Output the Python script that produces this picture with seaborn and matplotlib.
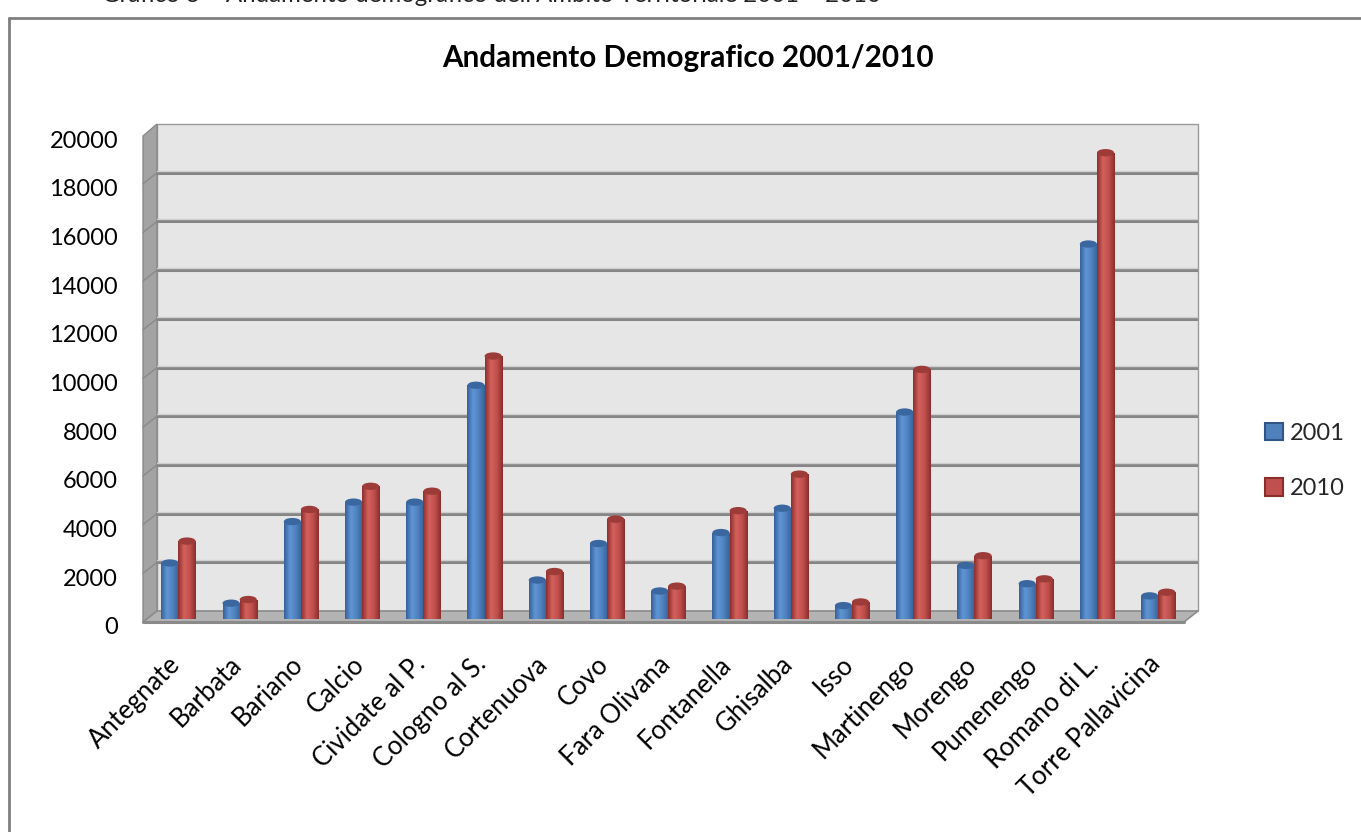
import numpy as np
import pandas as pd
import matplotlib
matplotlib.use("Agg")
import matplotlib.pyplot as plt
import matplotlib.transforms as mtransforms
from matplotlib.patches import Polygon, Ellipse, Patch
from matplotlib.colors import LinearSegmentedColormap
from matplotlib.lines import Line2D
import seaborn as sns

# Resident population per municipality
comuni = ["Antegnate", "Barbata", "Bariano", "Calcio", "Cividate al P.",
          "Cologno al S.", "Cortenuova", "Covo", "Fara Olivana", "Fontanella",
          "Ghisalba", "Isso", "Martinengo", "Morengo", "Pumenengo",
          "Romano di L.", "Torre Pallavicina"]
pop_2001 = [2300, 650, 4000, 4800, 4800, 9600, 1600, 3100, 1150, 3550,
            4550, 550, 8500, 2200, 1450, 15400, 950]
pop_2010 = [3200, 800, 4500, 5450, 5250, 10800, 1950, 4100, 1350, 4450,
            5950, 700, 10250, 2600, 1650, 19150, 1100]
anni = ["2001", "2010"]
y_ticks = list(range(0, 20001, 2000))

title = "Andamento Demografico 2001/2010"
caption = "Grafico 3 \u2013 Andamento demografico dell'Ambito Territoriale 2001 \u2013 2010"

df = pd.DataFrame({
    "Comune": comuni * 2,
    "Abitanti": pop_2001 + pop_2010,
    "Anno": [anni[0]] * len(comuni) + [anni[1]] * len(comuni),
})

W, H = 1361, 832
BLUE, RED = "#4F81BD", "#C0504D"

sns.set_theme(style="white")
plt.rcParams["font.family"] = ["Lato", "DejaVu Sans"]

fig = plt.figure(figsize=(W / 100, H / 100), dpi=100)
fig.patch.set_facecolor("white")


def fx(x):
    return x / W


def fy(y):
    return 1 - y / H


# plane of the bars (mid depth) and the back wall of the 3-D box
L, R = 157, 1198
FT, FB = 132, 619          # bar plane: 20000 and 0
BT, BB = 124, 611          # back wall: 20000 and 0
XL = 143                   # left edge of the side wall / floor

ax = fig.add_axes([fx(L), fy(FB), (R - L) / W, (FB - FT) / H])
ax.set_zorder(1)
ax.patch.set_alpha(0)

# back wall, side wall and floor
fig.patches.append(Polygon([(fx(L), fy(BT)), (fx(R), fy(BT)), (fx(R), fy(BB)),
                            (fx(L), fy(BB))], closed=True,
                           transform=fig.transFigure, facecolor="#e6e6e6",
                           edgecolor="#9a9a9a", lw=1, zorder=-2))
fig.patches.append(Polygon([(fx(XL), fy(BT + 12)), (fx(L), fy(BT)), (fx(L), fy(BB)),
                            (fx(XL), fy(FB + 3))], closed=True,
                           transform=fig.transFigure, facecolor="#a3a3a3",
                           edgecolor="#8a8a8a", lw=1, zorder=-1.5))
fig.patches.append(Polygon([(fx(XL), fy(FB + 3)), (fx(L), fy(BB)), (fx(R), fy(BB)),
                            (fx(R - 14), fy(FB + 3))], closed=True,
                           transform=fig.transFigure, facecolor="#b3b3b3",
                           edgecolor="#8c8c8c", lw=1.2, zorder=-1))
fig.lines.append(Line2D([fx(XL), fx(R - 14)], [fy(FB + 3), fy(FB + 3)],
                        transform=fig.transFigure, color="#8a8a8a", lw=2.2,
                        zorder=-0.9))
for v in y_ticks[1:-1]:
    yb = BB - (BB - BT) * v / 20000
    fig.lines.append(Line2D([fx(XL), fx(L)], [fy(yb + 11), fy(yb)],
                            transform=fig.transFigure, color="#8a8a8a", lw=1,
                            zorder=-1.4))

sns.barplot(data=df, x="Comune", y="Abitanti", hue="Anno",
            palette=[BLUE, RED], width=0.56, saturation=1,
            legend=False, ax=ax, zorder=3)

ax.set_xlim(-0.35, len(comuni) - 0.35)
ax.set_ylim(0, 20000)
ax.set_yticks(y_ticks)
ax.set_yticklabels([str(v) for v in y_ticks])
ax.set_xlabel("")
ax.set_ylabel("")
for s in ax.spines.values():
    s.set_visible(False)

# gridlines live on the back wall, a few pixels above the bar plane
up = mtransforms.ScaledTranslation(0, (FB - BB) / 100, fig.dpi_scale_trans)
hi = mtransforms.ScaledTranslation(0, (FB - BB + 2) / 100, fig.dpi_scale_trans)
for v in y_ticks[1:]:
    g = ax.axhline(v, color="#868686", lw=2.2, zorder=1)
    g.set_transform(g.get_transform() + up)
    g2 = ax.axhline(v, color="#cfcfcf", lw=1.0, zorder=1)
    g2.set_transform(g2.get_transform() + hi)

# cylinder shading for every bar
shade = {
    BLUE: (["#36609a", "#5f95d6", "#4f81bd", "#36619b"], "#3a679f"),
    RED: (["#8d2f2c", "#d4605c", "#c0504d", "#8a2e2b"], "#9c3b38"),
}
grad = np.linspace(0, 1, 64).reshape(1, -1)
cap_h = 300
bars = list(ax.patches)
for i, p in enumerate(bars):
    h = p.get_height()
    if h <= 0:
        continue
    key = BLUE if i < len(comuni) else RED
    cols, cap = shade[key]
    cmap = LinearSegmentedColormap.from_list("cyl", cols)
    x0, w = p.get_x(), p.get_width()
    p.set_facecolor("none")
    p.set_edgecolor("none")
    im = ax.imshow(grad, cmap=cmap, aspect="auto", extent=[x0, x0 + w, 0, h],
                   zorder=3, interpolation="bilinear")
    im.set_clip_path(p)
    ax.add_patch(Ellipse((x0 + w / 2, h), w, cap_h, facecolor=cap,
                         edgecolor="none", zorder=4))

ax.set_xlim(-0.35, len(comuni) - 0.35)
ax.set_ylim(0, 20000)

# value labels sit on the front edge, slightly below the bar plane
ax.tick_params(axis="y", length=0, pad=28, labelsize=17, labelcolor="black")
down = mtransforms.ScaledTranslation(0, -7 / 100, fig.dpi_scale_trans)
for lab in ax.get_yticklabels():
    lab.set_transform(lab.get_transform() + down)

ax.tick_params(axis="x", length=0, pad=22, labelsize=18.5, labelcolor="black")
shift = mtransforms.ScaledTranslation(-11 / 100, -2 / 100, fig.dpi_scale_trans)
for lab in ax.get_xticklabels():
    lab.set_rotation(45)
    lab.set_ha("right")
    lab.set_rotation_mode("anchor")
    lab.set_transform(lab.get_transform() + shift)

# title, caption and outer frame
fig.text(fx(688), fy(58), title, ha="center", va="center",
         fontsize=21.3, fontweight="bold", color="black")
fig.text(fx(102), fy(-4), caption, ha="left", va="center",
         fontsize=17.3, color="#222222")
fig.lines.append(Line2D([fx(9), fx(9)], [fy(18), fy(H + 5)],
                        transform=fig.transFigure, color="#7f7f7f", lw=2))
fig.lines.append(Line2D([fx(9), fx(W + 5)], [fy(18), fy(18)],
                        transform=fig.transFigure, color="#7f7f7f", lw=2))

handles = [Patch(facecolor=BLUE, edgecolor="#2f5485", lw=1.5),
           Patch(facecolor=RED, edgecolor="#8a2e2b", lw=1.5)]
fig.legend(handles, anni, loc="center left",
           bbox_to_anchor=(fx(1244), fy(461)), frameon=False,
           fontsize=17, handlelength=0.75, handleheight=0.75,
           handletextpad=0.3, labelspacing=1.45)

fig.savefig("out.png", dpi=100)
